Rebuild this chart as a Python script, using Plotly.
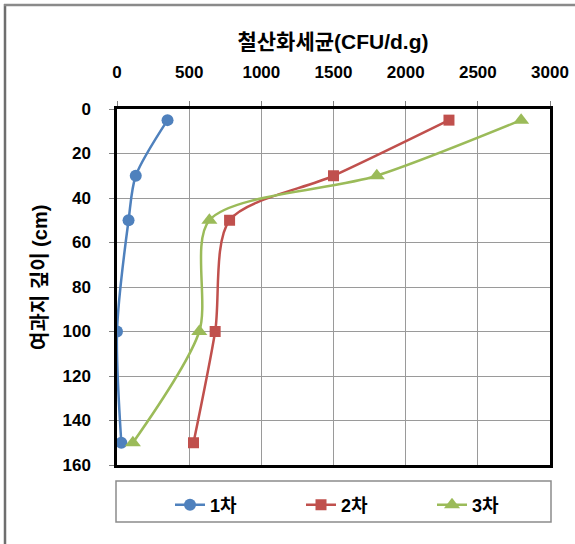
import plotly.graph_objects as go

# Iron-oxidizing bacteria counts by filter depth, three sampling rounds
depth = [5, 30, 50, 100, 150]
round1 = [350, 130, 80, 0, 30]
round2 = [2300, 1500, 780, 680, 530]
round3 = [2800, 1800, 640, 570, 110]

series_names = ["1차", "2차", "3차"]
x_ticks = [0, 500, 1000, 1500, 2000, 2500, 3000]
y_ticks = [0, 20, 40, 60, 80, 100, 120, 140, 160]

FONT = "Liberation Sans, Arial, Noto Sans CJK KR, sans-serif"
W, H = 575, 544
L, R, T, B = 117, 25, 109, 79
PW, PH = W - L - R, H - T - B


def px_x(p):
    return (p - L) / PW


def px_y(p):
    return (H - B - p) / PH


styles = [
    dict(color="#4F81BD", symbol="circle", size=12),
    dict(color="#C0504D", symbol="square", size=11),
    dict(color="#9BBB59", symbol="triangle-up", size=14),
]

fig = go.Figure()
for name, vals, st in zip(series_names, [round1, round2, round3], styles):
    fig.add_trace(go.Scatter(
        x=vals, y=depth, name=f"<b>{name}</b>", mode="lines+markers",
        line=dict(color=st["color"], width=2.5, shape="spline", smoothing=0.8),
        marker=dict(color=st["color"], symbol=st["symbol"], size=st["size"]),
    ))

fig.update_layout(
    width=W, height=H,
    margin=dict(l=L, r=R, t=T, b=B, autoexpand=False),
    paper_bgcolor="white", plot_bgcolor="white",
    font=dict(family=FONT, size=17, color="black"),
    title=dict(text="<b>철산화세균(CFU/d.g)</b>", x=px_x(333), xref="paper",
               xanchor="center", y=1 - 42 / H, yref="container", yanchor="middle",
               font=dict(size=21, family=FONT)),
    showlegend=True,
    legend=dict(orientation="h", x=px_x(170), y=px_y(505), xanchor="left", yanchor="middle",
                xref="paper", yref="paper", bgcolor="rgba(0,0,0,0)", borderwidth=0,
                entrywidth=86, entrywidthmode="pixels",
                font=dict(size=18, family=FONT)),
)

fig.update_xaxes(
    side="top", range=[0, 3000], tickvals=x_ticks,
    ticktext=[f"<b>{v}</b>" for v in x_ticks],
    showgrid=True, gridcolor="#9A9A9A", gridwidth=1.3,
    showline=True, linecolor="black", linewidth=2.5, mirror=True,
    ticks="outside", ticklen=5, tickcolor="#808080", ticklabelstandoff=16,
    zeroline=False, tickfont=dict(size=17, family=FONT), automargin=False,
)
fig.update_yaxes(
    range=[160, 0], tickvals=y_ticks,
    ticktext=[f"<b>{v}</b>" for v in y_ticks],
    showgrid=True, gridcolor="#9A9A9A", gridwidth=1.3,
    showline=True, linecolor="black", linewidth=2.5, mirror=True,
    ticks="outside", ticklen=5, tickcolor="#808080", ticklabelstandoff=15,
    zeroline=False, tickfont=dict(size=17, family=FONT), automargin=False,
)

# vertical axis title
fig.add_annotation(text="<b>여과지 깊이 (cm)</b>", xref="paper", yref="paper",
                   x=px_x(40), y=px_y(278), xanchor="center", yanchor="middle",
                   textangle=-90, showarrow=False, font=dict(size=20, family=FONT))

# chart frame (left and top edges) and the legend box
fig.add_shape(type="line", xref="paper", yref="paper",
              x0=px_x(5), x1=px_x(5), y0=px_y(4), y1=px_y(H + 5),
              line=dict(color="#6E6E6E", width=2.5))
fig.add_shape(type="line", xref="paper", yref="paper",
              x0=px_x(4), x1=px_x(W + 5), y0=px_y(5), y1=px_y(5),
              line=dict(color="#8A8A8A", width=2.5))
fig.add_shape(type="rect", xref="paper", yref="paper",
              x0=px_x(116), x1=px_x(551), y0=px_y(481), y1=px_y(522),
              line=dict(color="#8C8C8C", width=1.5))

fig.write_html("out.html")
